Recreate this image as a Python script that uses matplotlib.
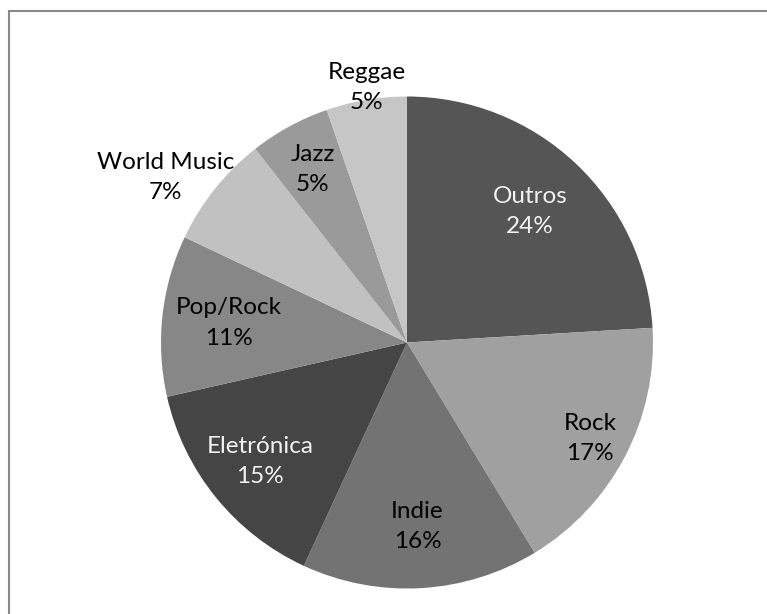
import numpy as np
import matplotlib.pyplot as plt
from matplotlib.patches import Rectangle

plt.rcParams['font.family'] = ['Lato', 'DejaVu Sans']

# data (shares in %)
generos = ['Outros', 'Rock', 'Indie', 'Eletrónica', 'Pop/Rock', 'World Music', 'Jazz', 'Reggae']
valores = [24.1, 17.3, 15.6, 14.6, 10.6, 7.4, 5.3, 5.3]
cores = ['#555555', '#a0a0a0', '#737373', '#454545', '#878787', '#c1c1c1', '#9a9a9a', '#c6c6c6']
cor_texto = ['#f2f2f2', 'black', 'black', '#f2f2f2', 'black', 'black', 'black', 'black']

# label placement (distance from centre as fraction of radius, angle shift in degrees)
dist_rotulo = [0.73, 0.84, 0.75, 0.77, 0.73, 1.19, 0.80, 1.05]
desvio_ang = [0, 0, 0, 0, 0, 4.3, 0, -0.5]

fig = plt.figure(figsize=(7.67, 6.14), dpi=100)
ax = fig.add_axes([161 / 767, 25.5 / 614, 492 / 767, 492 / 614])

wedges, _ = ax.pie(valores, colors=cores, startangle=90, counterclock=False,
                   radius=1.0, wedgeprops=dict(linewidth=0))

total = sum(valores)
for w, nome, v, cor, r, d in zip(wedges, generos, valores, cor_texto, dist_rotulo, desvio_ang):
    ang = np.deg2rad((w.theta1 + w.theta2) / 2 + d)
    ax.text(r * np.cos(ang), r * np.sin(ang), '%s\n%.0f%%' % (nome, v / total * 100),
            ha='center', va='center', fontsize=17.5, color=cor, linespacing=1.55)

ax.set_xlim(-1, 1)
ax.set_ylim(-1, 1)
ax.set_aspect('auto')
ax.axis('off')

# chart area border (runs off the right and bottom of the image)
fig.patches.append(Rectangle((8.5 / 767, -0.2), 1.2, 1.2 - 11.5 / 614,
                             transform=fig.transFigure, fill=False,
                             edgecolor='#888888', linewidth=1.5))

fig.savefig('out.png', dpi=100)
